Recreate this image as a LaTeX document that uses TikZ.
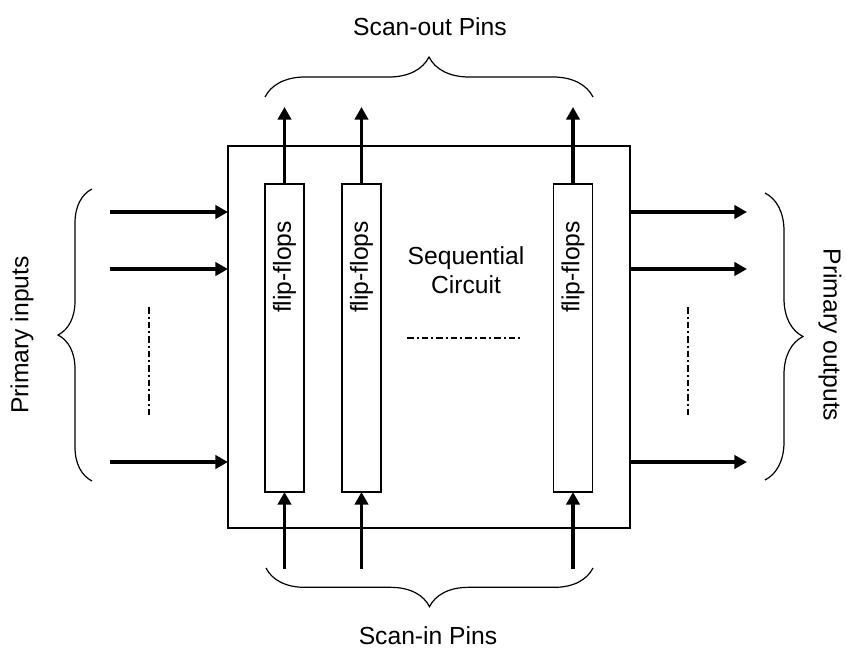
\documentclass[tikz,border=0pt]{standalone}
\usepackage{fontspec}
\setmainfont{Liberation Sans}
\usetikzlibrary{arrows.meta,positioning,decorations.pathreplacing}

\begin{document}
\begin{tikzpicture}[
  x=0.75pt, y=-0.75pt,
  font=\fontsize{18.5}{22}\selectfont,
  circ/.style={draw, line width=0.9pt, inner sep=0pt, outer sep=0pt, minimum width=301.5pt, minimum height=286.5pt},
  ffbox/.style={draw, line width=0.9pt, inner sep=0pt, outer sep=0pt, minimum width=29.25pt, minimum height=231pt},
  pin/.style={line width=2.6pt, -{Triangle[length=9.5pt, width=10pt]}},
  dd/.style={line width=1.8pt, dash pattern=on 5pt off 2.2pt on 1.5pt off 2.2pt},
  brc/.style={line width=0.9pt, decorate, decoration={brace, amplitude=#1}},
  lbl/.style={inner sep=0pt, align=center}]
\useasboundingbox (0,0) rectangle (846,650);
% main block and scan chains
\node[circ] (seq) at (429,337) {};
\node[ffbox] (ff1) at (284.5,338) {};
\node[ffbox] (ff2) at (361.5,338) {};
\node[ffbox] (ff3) at (573,338) {};
\node[lbl, rotate=90] (t1) at (284.5,267) {flip-flops};
\node[lbl, rotate=90] (t2) at (361.5,267) {flip-flops};
\node[lbl, rotate=90] (t3) at (573,267) {flip-flops};
\node[lbl] (name) at (466,270) {Sequential\\Circuit};
\coordinate (hd1) at (407,338);
\coordinate (hd2) at (520,338);
\draw[dd] (hd1) -- (hd2);
% scan-out pins
\coordinate (so1) at (284.5,107);
\coordinate (so2) at (361.5,107);
\coordinate (so3) at (573,107);
\draw[pin] (ff1.north) -- (so1);
\draw[pin] (ff2.north) -- (so2);
\draw[pin] (ff3.north) -- (so3);
\coordinate (bo1) at (265,97);
\coordinate (bo2) at (593,97);
\draw[brc=30pt] (bo1) -- (bo2);
\node[lbl] (sout) at (430,27) {Scan-out Pins};
% scan-in pins
\coordinate (si1) at (284.5,569);
\coordinate (si2) at (361.5,569);
\coordinate (si3) at (573,569);
\draw[pin] (si1) -- (ff1.south);
\draw[pin] (si2) -- (ff2.south);
\draw[pin] (si3) -- (ff3.south);
\coordinate (bi1) at (593,568);
\coordinate (bi2) at (266,568);
\draw[brc=29pt] (bi1) -- (bi2);
\node[lbl] (sin) at (428,636) {Scan-in Pins};
% primary inputs
\coordinate (in1) at (110,212);
\coordinate (in2) at (110,269);
\coordinate (in3) at (110,462);
\draw[pin] (in1) -- (in1 -| seq.west);
\draw[pin] (in2) -- (in2 -| seq.west);
\draw[pin] (in3) -- (in3 -| seq.west);
\coordinate (vi1) at (149,307);
\coordinate (vi2) at (149,418);
\draw[dd] (vi1) -- (vi2);
\coordinate (bl1) at (92,481);
\coordinate (bl2) at (92,189);
\draw[brc=25.5pt] (bl1) -- (bl2);
\node[lbl, rotate=90] (pin) at (22,335) {Primary inputs};
% primary outputs
\coordinate (out1) at (747,212);
\coordinate (out2) at (747,269);
\coordinate (out3) at (747,462);
\draw[pin] (seq.east |- out1) -- (out1);
\draw[pin] (seq.east |- out2) -- (out2);
\draw[pin] (seq.east |- out3) -- (out3);
\coordinate (vo1) at (688,307);
\coordinate (vo2) at (688,418);
\draw[dd] (vo1) -- (vo2);
\coordinate (br1) at (765,193);
\coordinate (br2) at (765,480);
\draw[brc=28.5pt] (br1) -- (br2);
\node[lbl, rotate=-90] (pout) at (830,335) {Primary outputs};
\end{tikzpicture}
\end{document}
